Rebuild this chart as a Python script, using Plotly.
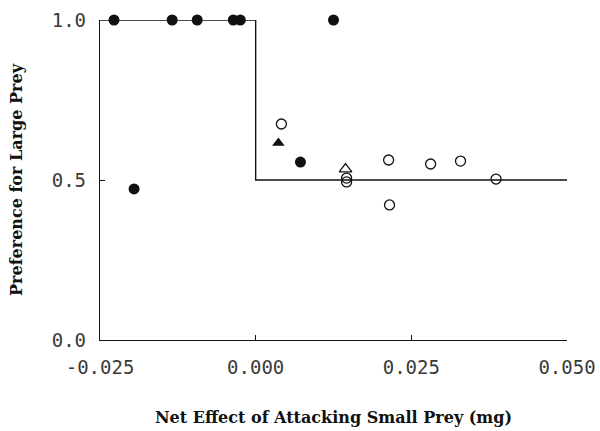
import plotly.graph_objects as go

# Step (predicted) function
step_x = [-0.025, 0.0, 0.05]
step_y = [1.0, 0.5, 0.5]

# Filled circles
filled_circle_x = [-0.02275, -0.01341, -0.00939, -0.00359, -0.00247, -0.01953, 0.0125, 0.00719]
filled_circle_y = [1.0, 1.0, 1.0, 1.0, 1.0, 0.472, 1.0, 0.556]

# Filled triangle
filled_tri_x = [0.00365]
filled_tri_y = [0.616]

# Open circles
open_circle_x = [0.00413, 0.0146, 0.0146, 0.02135, 0.0215, 0.0281, 0.0329, 0.0386]
open_circle_y = [0.675, 0.506, 0.494, 0.5625, 0.422, 0.55, 0.559, 0.503]

# Open triangle
open_tri_x = [0.01443]
open_tri_y = [0.534]

x_ticks = [-0.025, 0.0, 0.025, 0.05]
x_ticktext = ["-0.025", "0.000", "0.025", "0.050"]
y_ticks = [0.0, 0.5, 1.0]
y_ticktext = ["0.0", "0.5", "1.0"]

ink = "#111111"

fig = go.Figure()
fig.add_trace(go.Scatter(x=step_x, y=step_y, mode="lines", line=dict(shape="hv", color=ink, width=1.4),
                         hoverinfo="skip", cliponaxis=False))
fig.add_trace(go.Scatter(x=filled_circle_x, y=filled_circle_y, mode="markers", cliponaxis=False,
                         marker=dict(symbol="circle", size=11, color=ink, line=dict(width=0))))
fig.add_trace(go.Scatter(x=filled_tri_x, y=filled_tri_y, mode="markers", cliponaxis=False,
                         marker=dict(symbol="triangle-up", size=11, color=ink, line=dict(width=0))))
fig.add_trace(go.Scatter(x=open_circle_x, y=open_circle_y, mode="markers", cliponaxis=False,
                         marker=dict(symbol="circle-open", size=10, color=ink, line=dict(width=1.3))))
fig.add_trace(go.Scatter(x=open_tri_x, y=open_tri_y, mode="markers", cliponaxis=False,
                         marker=dict(symbol="triangle-up-open", size=11, color=ink, line=dict(width=1.3))))

tick_font = dict(family="DejaVu Sans Mono", size=19, color="#3a3a3a")
title_font = dict(family="DejaVu Serif", size=16, color=ink, weight="bold")

fig.update_layout(
    width=600, height=431,
    margin=dict(l=100, r=33, t=20, b=91),
    paper_bgcolor="white", plot_bgcolor="white",
    showlegend=False,
    xaxis=dict(range=[-0.025, 0.05], tickvals=x_ticks, ticktext=x_ticktext, automargin=False,
               showgrid=False, zeroline=False, showline=True, linecolor=ink, linewidth=1.3,
               ticks="inside", ticklen=5, tickwidth=1.2, tickcolor=ink,
               tickfont=tick_font, ticklabelstandoff=10,
               title=dict(text="Net Effect of Attacking Small Prey (mg)", font=title_font, standoff=34)),
    yaxis=dict(range=[0, 1], tickvals=y_ticks, ticktext=y_ticktext, automargin=False,
               showgrid=False, zeroline=False, showline=True, linecolor=ink, linewidth=1.3,
               ticks="inside", ticklen=5, tickwidth=1.2, tickcolor=ink,
               tickfont=tick_font, ticklabelstandoff=9,
               title=dict(text="Preference for Large Prey", font=title_font, standoff=25)),
)

fig.write_html("out.html", config={"displayModeBar": False},
               post_script="document.body.style.margin='0';document.body.style.padding='0';")
